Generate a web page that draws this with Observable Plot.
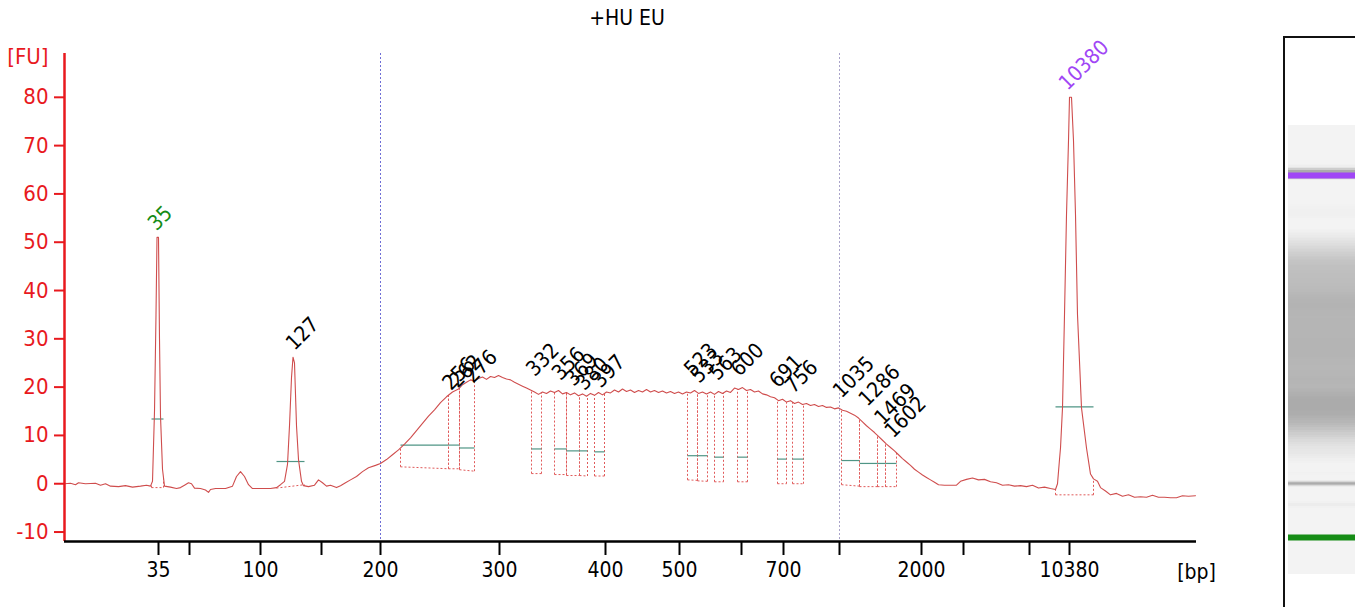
<!DOCTYPE html>
<html><head><meta charset="utf-8">
<script src="https://cdn.jsdelivr.net/npm/d3@7"></script>
<script src="https://cdn.jsdelivr.net/npm/@observablehq/plot@0.6"></script>
<style>
body{margin:0;background:#fff;}
#wrap{position:relative;width:1355px;height:607px;overflow:hidden;background:#fff;font-family:"DejaVu Sans Condensed","DejaVu Sans",sans-serif;}
#title{position:absolute;left:0;top:8px;width:1254px;text-align:center;font-size:21px;line-height:21px;color:#000;}
#main{position:absolute;left:0;top:0;}
#gel{position:absolute;left:1283px;top:36px;border-left:2px solid #111;border-top:2px solid #111;width:80px;height:580px;}
</style></head>
<body>
<div id="wrap">
  <div id="main"></div>
  <div id="title">+HU EU</div>
  <div id="gel"></div>
</div>
<script>
// Ladder (bp) and its migration times (s)
const ladderBp   = [35, 50, 100, 150, 200, 300, 400, 500, 600, 700, 1000, 2000, 3000, 7000, 10380];
const ladderTime = [49.4, 52.5, 59.6, 65.7, 71.6, 83.5, 94.1, 101.5, 107.7, 111.9, 117.5, 125.7, 129.9, 136.5, 140.5];
const labeledBp  = [35, 100, 200, 300, 400, 500, 700, 2000, 10380];
const yTicks     = [-10, 0, 10, 20, 30, 40, 50, 60, 70, 80];
const timeDomain = [40, 153.2];
const fuDomain   = [-11.96, 89.07];
const smearRange = [200, 1000];

// Electropherogram trace: [time (s), fluorescence (FU)]
const trace = [[40.0,0.0],[40.6,0.1],[41.1,-0.2],[41.4,0.2],[42.1,0.0],[43.1,0.1],[43.6,-0.3],[44.1,0.0],[44.6,-0.5],[45.4,-0.6],[46.1,-0.4],[46.8,-0.7],[47.6,-0.5],[48.2,-0.3],[48.6,-0.5],[48.8,0.5],[49.0,15],[49.15,35],[49.25,51],[49.4,51],[49.5,30],[49.6,14],[49.8,3],[50.0,-0.5],[50.6,-0.7],[51.2,-1.0],[51.6,-0.8],[52.0,-0.3],[52.4,0.2],[52.7,0.0],[53.0,-0.9],[53.6,-1.0],[54.1,-1.3],[54.4,-1.8],[54.6,-1.2],[55.1,-1.0],[56.1,-1.0],[56.8,-0.5],[57.2,1.5],[57.6,2.5],[58.0,1.5],[58.4,-0.2],[58.8,-1.0],[59.6,-1.0],[60.6,-1.0],[61.2,-0.8],[61.6,-0.2],[62.0,0.5],[62.3,4],[62.5,12],[62.7,22],[62.85,26.2],[63.0,25],[63.2,12],[63.4,5],[63.7,0.5],[63.9,-0.4],[64.4,-0.6],[65.0,-0.3],[65.4,0.8],[65.8,0.2],[66.2,-0.5],[66.6,-0.3],[67.2,-0.8],[67.6,-0.4],[68.1,0.2],[68.6,0.8],[69.2,1.5],[69.8,2.5],[70.4,3.3],[71.1,3.8],[71.6,4.2],[72.2,5.0],[72.8,6.0],[73.4,7.0],[74.0,8.2],[74.6,9.5],[75.2,11.0],[75.8,12.5],[76.4,14.0],[77.0,15.3],[77.6,16.8],[78.2,18.0],[78.8,19.0],[79.4,19.6],[79.8,20.5],[80.2,21.0],[80.6,21.5],[81.0,21.3],[81.4,21.8],[81.8,22.1],[82.2,21.6],[82.6,22.2],[83.0,22.0],[83.4,22.4],[83.8,22.0],[84.2,21.7],[84.6,21.5],[85.0,21.0],[85.4,20.6],[85.8,20.2],[86.2,19.8],[86.6,19.4],[87.0,19.0],[87.4,18.5],[87.8,19.0],[88.2,18.7],[88.6,19.2],[89.0,18.9],[89.4,19.3],[89.8,18.6],[90.2,18.9],[90.6,18.4],[91.0,18.8],[91.4,18.2],[91.8,18.6],[92.2,18.1],[92.6,18.7],[93.0,18.3],[93.4,18.9],[93.8,18.4],[94.2,19.0],[94.6,18.8],[95.0,19.4],[95.4,19.0],[95.8,19.6],[96.2,19.1],[96.6,19.4],[97.0,18.9],[97.4,19.3],[97.8,19.0],[98.2,19.5],[98.6,19.0],[99.0,19.3],[99.4,18.9],[99.8,19.2],[100.2,18.8],[100.6,19.1],[101.0,18.7],[101.4,19.0],[101.8,18.6],[102.2,19.0],[102.6,18.8],[103.0,19.3],[103.4,18.7],[103.8,19.0],[104.2,18.6],[104.6,19.0],[105.0,18.5],[105.4,19.1],[105.8,18.7],[106.2,19.2],[106.6,18.9],[107.0,19.8],[107.4,19.5],[107.8,19.9],[108.2,19.3],[108.6,19.5],[109.0,19.0],[109.4,19.2],[109.8,18.6],[110.2,18.4],[110.6,18.0],[111.0,17.8],[111.4,17.2],[111.8,17.5],[112.2,16.9],[112.6,17.2],[113.0,16.6],[113.4,16.9],[113.8,16.4],[114.2,16.6],[114.6,16.2],[115.0,16.4],[115.4,16.0],[115.8,16.2],[116.2,15.8],[116.6,15.9],[117.0,15.5],[117.4,15.7],[117.8,15.2],[118.2,15.0],[118.6,14.6],[119.0,14.2],[119.4,13.6],[119.8,12.8],[120.2,12.0],[120.6,11.3],[121.0,10.6],[121.4,9.8],[121.8,9.0],[122.2,8.2],[122.6,7.5],[123.0,6.8],[123.4,6.0],[123.8,5.2],[124.2,4.5],[124.6,3.8],[125.0,3.0],[125.4,2.4],[125.8,1.8],[126.2,1.3],[126.6,0.8],[127.0,0.3],[127.4,-0.2],[128.0,-0.3],[128.6,-0.3],[129.2,-0.3],[129.6,0.5],[130.2,0.9],[130.8,1.2],[131.4,0.8],[132.0,0.9],[132.6,0.4],[133.2,0.2],[133.8,-0.3],[134.4,-0.2],[135.0,-0.5],[135.6,-0.4],[136.2,-0.6],[136.8,-0.3],[137.4,-0.9],[138.0,-0.7],[138.6,-1.0],[139.1,-1.2],[139.3,0],[139.5,5],[139.6,7.4],[139.8,15.7],[140.0,35],[140.2,55.7],[140.4,71],[140.5,80],[140.7,80],[140.9,71],[141.1,55.7],[141.3,35],[141.7,15.7],[142.2,7.4],[142.6,2],[142.9,1.0],[143.3,0.5],[143.6,-0.8],[144.1,-1.5],[144.6,-2.3],[145.2,-2.0],[145.8,-2.6],[146.4,-2.3],[147.0,-2.8],[147.6,-2.7],[148.2,-2.8],[148.8,-2.4],[149.4,-2.8],[150.0,-2.8],[150.6,-2.9],[151.2,-2.9],[151.8,-2.5],[152.4,-2.6],[153.1,-2.5]];

// Called peaks
const peakBp      = [35, 127, 256, 262, 276, 332, 356, 369, 380, 397, 523, 533, 563, 600, 691, 756, 1035, 1286, 1469, 1602, 10380];
const peakLabelFU = [51, 26.2, 17.9, 18.4, 19.4, 20.8, 20.0, 18.8, 17.9, 18.4, 20.8, 19.4, 20.0, 20.8, 18.4, 17.3, 16.3, 14.6, 10.7, 8.0, 80];
// Peak integration regions (time) with baseline and width level
const regionStart = [48.7, 61.2, 73.6, 78.4, 79.5, 86.7, 89.0, 90.2, 91.5, 93.0, 102.3, 103.3, 105.0, 107.3, 111.3, 112.8, 117.7, 119.5, 121.3, 122.1, 139.1];
const regionEnd   = [49.9, 64.0, 78.4, 79.5, 81.0, 87.7, 90.2, 91.5, 92.3, 94.0, 103.3, 104.3, 105.9, 108.3, 112.2, 113.9, 119.5, 121.3, 122.1, 123.2, 142.9];
const baseStart   = [-0.8, -0.9, 3.5, 3.1, 2.9, 2.1, 1.9, 1.7, 1.7, 1.6, 0.8, 0.6, 0.4, 0.4, 0.0, 0.0, -0.2, -0.6, -0.6, -0.6, -2.3];
const baseEnd     = [-0.8, -0.2, 3.1, 3.1, 2.6, 2.1, 1.9, 1.7, 1.6, 1.6, 0.7, 0.5, 0.4, 0.4, 0.0, 0.0, -0.5, -0.6, -0.6, -0.6, -2.3];
const widthFU     = [13.4, 4.6, 8.0, 8.0, 7.4, 7.2, 7.2, 6.8, 6.8, 6.6, 5.8, 5.8, 5.5, 5.5, 5.1, 5.1, 4.8, 4.2, 4.2, 4.2, 15.9];

const lowerMarker = 35, upperMarker = 10380;
const RED = "#e8191e", TRACE = "#cf4d4d", DOT = "#e05a5a", TEAL = "#4f9585";
const GREEN = "#158c15", PURPLE = "#a046f5";
const FONT = '"DejaVu Sans Condensed","DejaVu Sans",sans-serif';

const bpToTime = d3.scaleLog().domain(ladderBp).range(ladderTime);
const tickLabel = new Map(ladderBp.map((b, i) => [ladderTime[i], labeledBp.includes(b) ? String(b) : ""]));
const bis = d3.bisector(d => d[0]).left;
const traceAt = t => {
  const i = bis(trace, t);
  if (i <= 0) return trace[0][1];
  if (i >= trace.length) return trace[trace.length - 1][1];
  const a = trace[i - 1], b = trace[i];
  return a[1] + (b[1] - a[1]) * (t - a[0]) / (b[0] - a[0]);
};

const peaks = peakBp.map((bp, i) => ({bp, t: bpToTime(bp), fu: peakLabelFU[i],
  color: bp === lowerMarker ? GREEN : bp === upperMarker ? PURPLE : "#000"}));
const regions = regionStart.map((s, i) => ({s, e: regionEnd[i], b0: baseStart[i], b1: baseEnd[i], w: widthFU[i],
  top0: traceAt(s), top1: traceAt(regionEnd[i])}));

const main = Plot.plot({
  width: 1240, height: 607,
  marginLeft: 64, marginRight: 44, marginTop: 53, marginBottom: 66,
  style: {fontFamily: FONT, fontSize: "21px", background: "transparent", overflow: "visible"},
  x: {domain: timeDomain},
  y: {domain: fuDomain},
  marks: [
    Plot.ruleX(smearRange, {x: d => bpToTime(d), stroke: (d, i) => i === 0 ? "#6f6fd6" : "#a9a3c9", strokeDasharray: "2,2", strokeWidth: 1}),
    Plot.link(regions, {x1: "s", x2: "e", y1: "b0", y2: "b1", stroke: DOT, strokeDasharray: "2,2", strokeWidth: 1}),
    Plot.link(regions, {x1: "s", x2: "s", y1: "b0", y2: "top0", stroke: DOT, strokeDasharray: "2,2", strokeWidth: 1}),
    Plot.link(regions, {x1: "e", x2: "e", y1: "b1", y2: "top1", stroke: DOT, strokeDasharray: "2,2", strokeWidth: 1}),
    Plot.link(regions, {x1: "s", x2: "e", y1: "w", y2: "w", stroke: TEAL, strokeWidth: 1.2}),
    Plot.line(trace, {x: d => d[0], y: d => d[1], stroke: TRACE, strokeWidth: 1.1}),
    Plot.text(peaks, {x: "t", y: "fu", text: d => String(d.bp), rotate: -45, textAnchor: "start", lineAnchor: "bottom",
      dx: -2, dy: -6, fill: "color", fontSize: 21}),
    Plot.axisY({ticks: yTicks, tickFormat: d => String(d), tickSize: 10, tickPadding: 6, strokeWidth: 2,
      color: RED, fontSize: 22, label: null}),
    Plot.ruleX([timeDomain[0]], {stroke: RED, strokeWidth: 2.5}),
    Plot.axisX({ticks: ladderTime, tickFormat: t => tickLabel.get(t) ?? "", tickSize: 14, tickPadding: 7, strokeWidth: 2,
      color: "#000", fontSize: 21, label: null}),
    Plot.ruleY([fuDomain[0]], {stroke: "#000", strokeWidth: 2.5}),
    Plot.text(["[FU]"], {x: timeDomain[0], y: fuDomain[1], text: d => d, dx: -16, dy: 3, textAnchor: "end", fill: RED, fontSize: 22}),
    Plot.text(["[bp]"], {x: timeDomain[1], y: fuDomain[0], text: d => d, dy: 31, textAnchor: "middle", fill: "#000", fontSize: 21})
  ]
});
document.getElementById("main").append(main);

// Gel-like lane built from the same trace
const gelSegs = d3.pairs(trace).map(([a, b]) => ({t0: a[0], t1: b[0], v: (a[1] + b[1]) / 2}));
const gel = Plot.plot({
  width: 71, height: 569,
  marginLeft: 3, marginRight: 0, marginTop: 86.5, marginBottom: 32.6,
  style: {background: "transparent"},
  x: {domain: [0, 1], axis: null},
  y: {domain: timeDomain, axis: null},
  color: {type: "linear", domain: [0, 22], range: ["#f3f3f3", "#ababab"], clamp: true},
  marks: [
    Plot.rect(gelSegs, {x1: 0, x2: 1, y1: "t0", y2: "t1", fill: "v", shapeRendering: "crispEdges"}),
    Plot.ruleY([lowerMarker], {y: d => bpToTime(d), stroke: GREEN, strokeWidth: 6}),
    Plot.ruleY([upperMarker], {y: d => bpToTime(d), stroke: PURPLE, strokeWidth: 6})
  ]
});
document.getElementById("gel").append(gel);
</script>
</body></html>
